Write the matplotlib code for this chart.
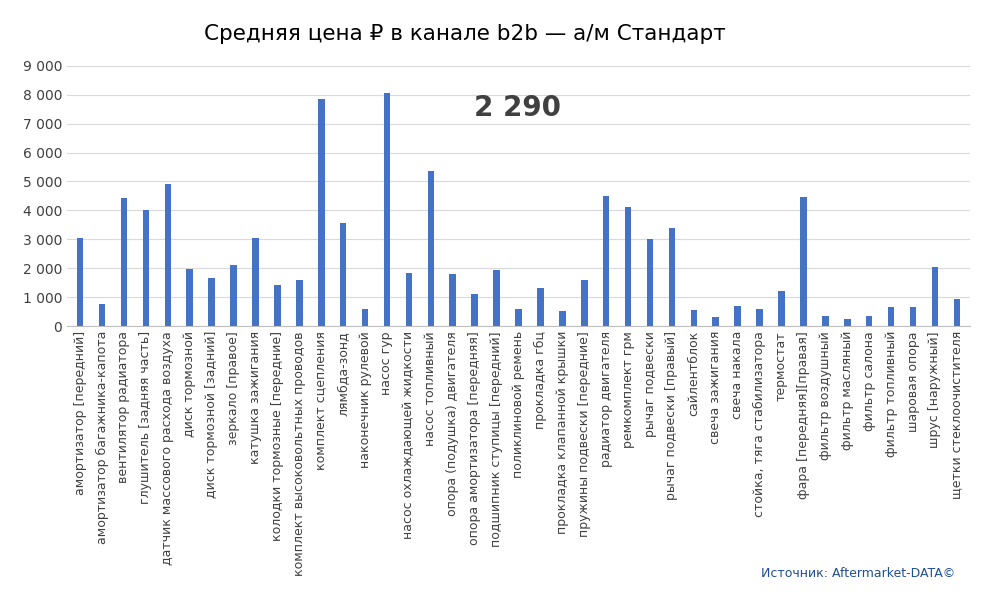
import matplotlib
matplotlib.use("Agg")
import matplotlib.pyplot as plt
from matplotlib.ticker import FuncFormatter

categories = ["амортизатор [передний]","амортизатор багажника-капота","вентилятор радиатора","глушитель [задняя часть]",
"датчик массового расхода воздуха","диск тормозной","диск тормозной [задний]","зеркало [правое]","катушка зажигания",
"колодки тормозные [передние]","комплект высоковольтных проводов","комплект сцепления","лямбда-зонд","наконечник рулевой",
"насос гур","насос охлаждающей жидкости","насос топливный","опора (подушка) двигателя","опора амортизатора [передняя]",
"подшипник ступицы [передний]","поликлиновой ремень","прокладка гбц","прокладка клапанной крышки","пружины подвески [передние]",
"радиатор двигателя","ремкомплект грм","рычаг подвески","рычаг подвески [правый]","сайлентблок","свеча зажигания",
"свеча накала","стойка, тяга стабилизатора","термостат","фара [передняя][правая]","фильтр воздушный","фильтр масляный",
"фильтр салона","фильтр топливный","шаровая опора","шрус [наружный]","щетки стеклоочистителя"]
values = [3050,750,4420,4000,4900,1980,1650,2100,3050,1430,1580,7850,3550,600,8050,1850,5350,1800,1120,1950,580,1320,520,1580,
4500,4130,3000,3380,560,330,700,600,1200,4480,360,250,360,680,680,2050,950]
average_label = "2 290"

fig = plt.figure(figsize=(10, 5.92), dpi=100)
ax = fig.add_axes([0.067, 0.449, 0.903, 0.44])
x = range(len(categories))
ax.bar(x, values, width=0.3, color="#4472C4")
ax.set_xlim(-0.6, len(categories) - 0.4)
ax.set_ylim(0, 9000)
ax.set_yticks(range(0, 9001, 1000))
ax.yaxis.set_major_formatter(FuncFormatter(lambda v, p: f"{int(v):,}".replace(",", " ")))
ax.set_xticks(list(x))
ax.set_xticklabels(categories, rotation=90, fontsize=9, color="#404040")
ax.tick_params(axis="y", labelsize=10, colors="#404040", length=0)
ax.tick_params(axis="x", length=0)
ax.grid(axis="y", color="#D9D9D9", linewidth=0.8)
ax.set_axisbelow(True)
for s in ["top", "right", "left"]:
    ax.spines[s].set_visible(False)
ax.spines["bottom"].set_color("#BFBFBF")
fig.text(0.465, 0.942, "Средняя цена ₽ в канале b2b — а/м Стандарт", ha="center", va="center", fontsize=15.5)
fig.text(0.517, 0.818, average_label, ha="center", va="center", fontsize=20, fontweight="bold", color="#404040")
fig.text(0.955, 0.032, "Источник: Aftermarket-DATA©", ha="right", va="center", fontsize=9, color="#1F4E9A")
fig.savefig("out.png")
